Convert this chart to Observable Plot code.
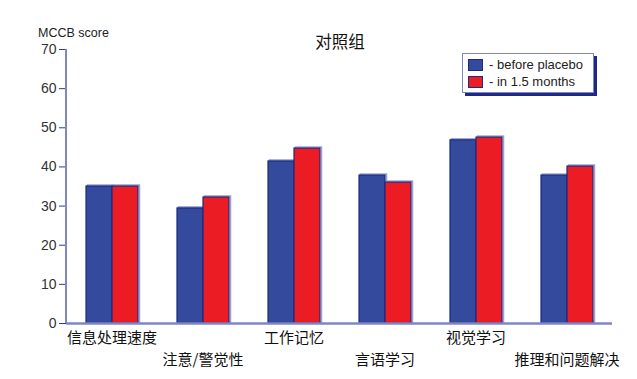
<!DOCTYPE html>
<html>
<head>
<meta charset="utf-8">
<script src="https://cdn.jsdelivr.net/npm/d3@7"></script>
<script src="https://cdn.jsdelivr.net/npm/@observablehq/plot@0.6"></script>
<style>
  html, body { margin: 0; padding: 0; background: #fff; }
  #wrap { position: relative; width: 637px; height: 379px; overflow: hidden; }
  #legend {
    position: absolute; left: 462px; top: 53px; width: 130px; height: 38px;
    border: 1px solid #7e86c4; background: #fff;
    box-shadow: 3px 3px 0 #1c2a85;
    font-family: "Liberation Sans", Arial, sans-serif; font-size: 13px; color: #222;
  }
  #legend .row { display: flex; align-items: center; height: 17px; margin-left: 5px; }
  #legend .row:first-child { margin-top: 2px; }
  #legend .sw { width: 15px; height: 12px; border: 1px solid #1c2a80; margin-right: 6px; box-sizing: border-box; }
</style>
</head>
<body>
<div id="wrap"></div>
<script>
const categories = ["信息处理速度", "注意/警觉性", "工作记忆", "言语学习", "视觉学习", "推理和问题解决"];
const seriesNames = ["- before placebo", "- in 1.5 months"];
const beforeValues = [35.0, 29.4, 41.4, 37.8, 46.8, 37.8];
const afterValues = [35.0, 32.2, 44.7, 36.0, 47.5, 40.1];
const yTicks = [0, 10, 20, 30, 40, 50, 60, 70];
const colors = ["#344a9c", "#ec1c24"];

const data = [];
categories.forEach((c, i) => {
  data.push({category: c, series: seriesNames[0], value: beforeValues[i]});
  data.push({category: c, series: seriesNames[1], value: afterValues[i]});
});
const row1 = categories.filter((d, i) => i % 2 === 0);
const row2 = categories.filter((d, i) => i % 2 === 1);

const cjk = "'Noto Sans CJK SC', 'Liberation Sans', sans-serif";

const chart = Plot.plot({
  width: 637,
  height: 379,
  marginLeft: 66,
  marginRight: 25,
  marginTop: 49,
  marginBottom: 56,
  style: {fontFamily: "'Liberation Sans', Arial, sans-serif", fontSize: "13px", color: "#333", background: "#fff"},
  fx: {domain: categories, padding: 0, axis: null},
  x: {domain: seriesNames, paddingInner: 0, paddingOuter: 0.75, axis: null},
  y: {domain: [0, 70], ticks: yTicks},
  color: {domain: seriesNames, range: colors},
  marks: [
    Plot.axisY({ticks: yTicks, tickSize: 7, tickPadding: 3, label: null, stroke: "#2a3a9a", fill: "#333", fontSize: 14}),
    Plot.barY(data, {fx: "category", x: "series", y: "value", fill: "none", stroke: "#9aa1d4", strokeWidth: 1.5, dx: 1.5, dy: -1}),
    Plot.barY(data, {fx: "category", x: "series", y: "value", fill: "series", stroke: "#1c2a80", strokeWidth: 1.2}),
    Plot.ruleY([0], {stroke: "#7e86c4", strokeWidth: 2.5}),
    Plot.text(row1, {fx: d => d, text: d => d, frameAnchor: "bottom", dy: 15, lineAnchor: "middle", fontSize: 15, fontFamily: cjk, fill: "#111"}),
    Plot.text(row2, {fx: d => d, text: d => d, frameAnchor: "bottom", dy: 37, lineAnchor: "middle", fontSize: 15, fontFamily: cjk, fill: "#111"})
  ]
});

document.getElementById("wrap").appendChild(chart);

const svg = d3.select(chart);
// y-axis line, positioned from the chart's own scales
const yScale = chart.scale("y");
const fxScale = chart.scale("fx");
const x0 = fxScale.apply(categories[0]);
svg.append("line")
  .attr("x1", x0).attr("x2", x0)
  .attr("y1", yScale.apply(yTicks[yTicks.length - 1])).attr("y2", yScale.apply(yTicks[0]))
  .attr("stroke", "#7e86c4").attr("stroke-width", 2);

svg.append("text").attr("x", 38).attr("y", 37).attr("text-anchor", "start").attr("font-size", 12.5).attr("fill", "#222")
  .attr("font-family", "'Liberation Sans', Arial, sans-serif").text("MCCB score");
svg.append("text").attr("x", 340).attr("y", 48).attr("text-anchor", "middle").attr("font-size", 16.5).attr("fill", "#111")
  .attr("font-family", cjk).text("对照组");

const legend = d3.select("#wrap").append("div").attr("id", "legend");
seriesNames.forEach((s, i) => {
  const r = legend.append("div").attr("class", "row");
  r.append("div").attr("class", "sw").style("background", colors[i]);
  r.append("span").text(s);
});
</script>
</body>
</html>
